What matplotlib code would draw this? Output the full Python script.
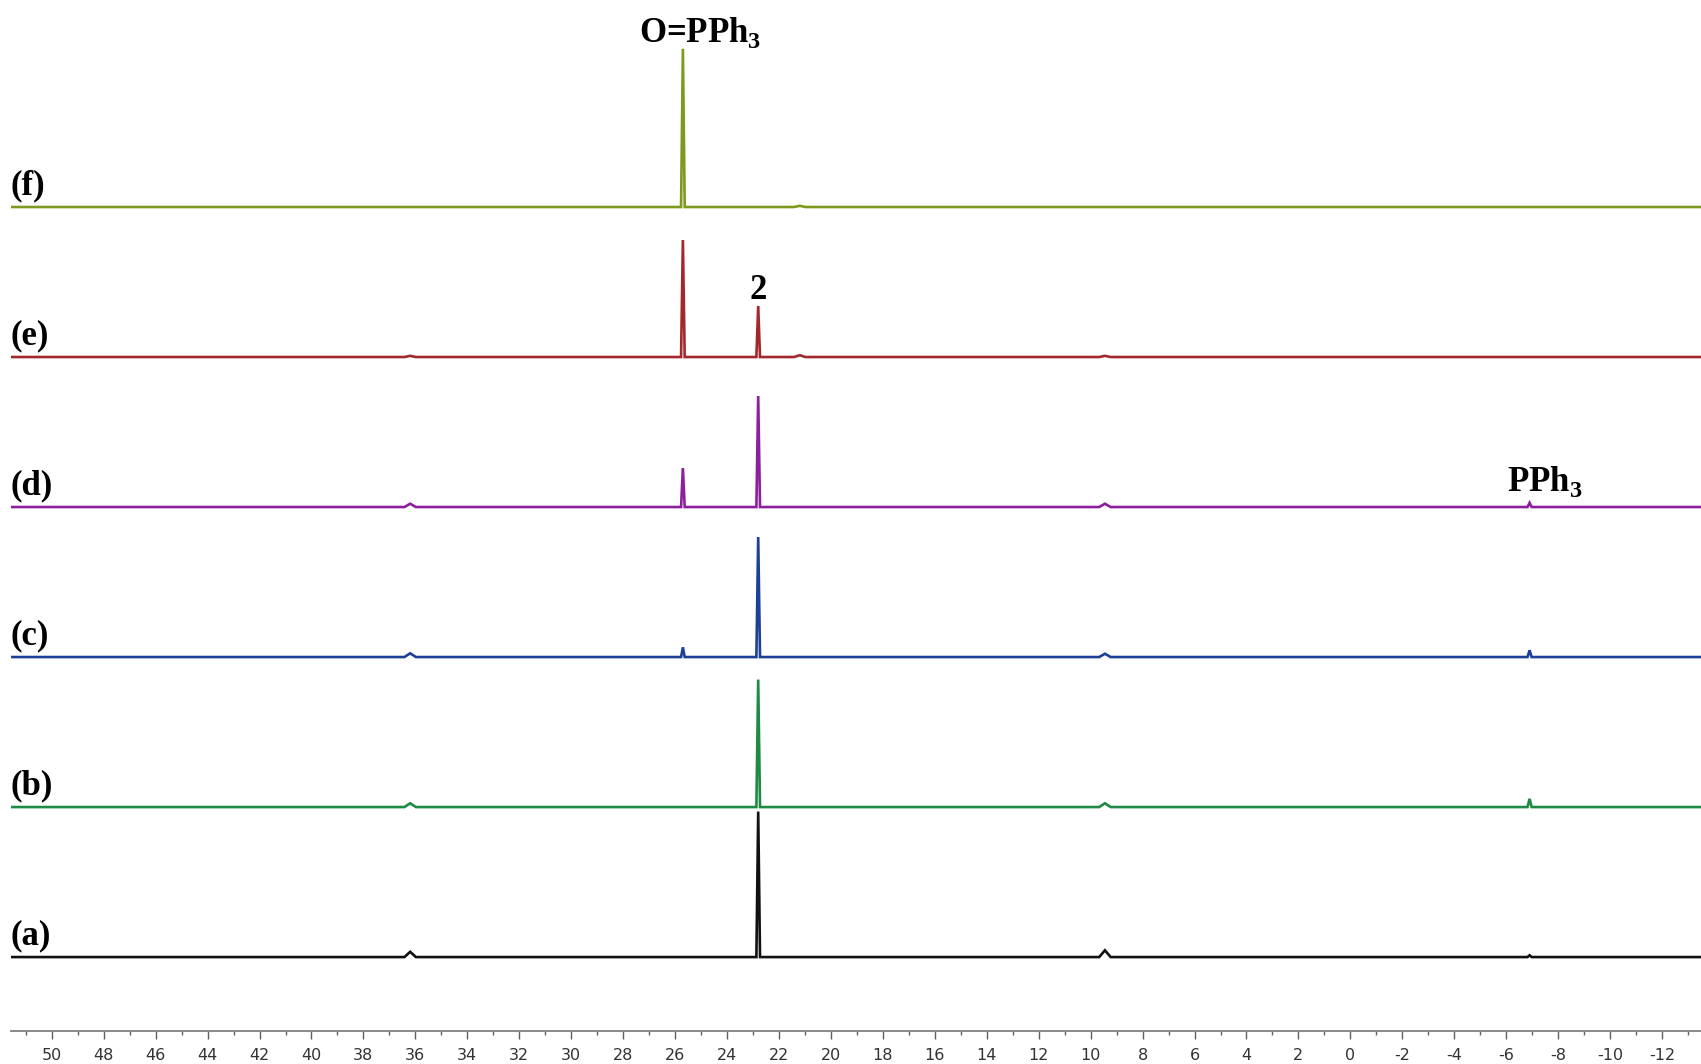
import numpy as np
import matplotlib
matplotlib.use("Agg")
import matplotlib.pyplot as plt
from matplotlib.ticker import MultipleLocator

# 31P NMR stack, (a) bottom -> (f) top
SHIFTS = [36.2, 25.7, 22.8, 21.2, 9.45, -6.9]          # ppm
WIDTHS = [0.22, 0.07, 0.07, 0.22, 0.22, 0.08]          # half-width, ppm
LABELS = ["(a)", "(b)", "(c)", "(d)", "(e)", "(f)"]
HEIGHT_A = [0.035, 0.0, 0.97, 0.0, 0.045, 0.012]
HEIGHT_B = [0.025, 0.0, 0.85, 0.0, 0.025, 0.055]
HEIGHT_C = [0.025, 0.065, 0.80, 0.0, 0.022, 0.045]
HEIGHT_D = [0.022, 0.26, 0.74, 0.0, 0.022, 0.028]
HEIGHT_E = [0.008, 0.78, 0.34, 0.012, 0.008, 0.0]
HEIGHT_F = [0.0, 1.055, 0.0, 0.008, 0.0, 0.0]
HEIGHTS = [HEIGHT_A, HEIGHT_B, HEIGHT_C, HEIGHT_D, HEIGHT_E, HEIGHT_F]
COLORS = ["#111111", "#1e8a44", "#1d3f95", "#8c1f9c", "#a3282b", "#7c9a1e"]
XMAX, XMIN = 51.58, -13.5

plt.rcParams["mathtext.fontset"] = "custom"
plt.rcParams["mathtext.rm"] = "Liberation Serif:bold"
plt.rcParams["mathtext.bf"] = "Liberation Serif:bold"
plt.rcParams["axes.unicode_minus"] = False

fig = plt.figure(figsize=(17.01, 10.64), dpi=100)
ax = fig.add_axes([0.0063, 0.031, 0.9937, 0.969])

for i, (h, col) in enumerate(zip(HEIGHTS, COLORS)):
    xs, ys = [XMAX], [0.0]
    for p, w, hh in sorted(zip(SHIFTS, WIDTHS, h), reverse=True):
        if hh <= 0:
            continue
        xs += [p + w, p, p - w]
        ys += [0.0, hh, 0.0]
    xs.append(XMIN); ys.append(0.0)
    ax.plot(xs, np.array(ys) + i, color=col, lw=1.9, solid_joinstyle="miter")
    ax.text(0.0, i + 0.14, LABELS[i], transform=ax.get_yaxis_transform(), ha="left", va="center",
            family="Liberation Serif", weight="bold", fontsize=25)

serif = dict(family="Liberation Serif", weight="bold", fontsize=25)
ax.text(25.05, 6.165, r"O=PPh$_{\mathbf{3}}$", ha="center", va="center", **serif)
ax.text(22.8, 4.335, "2", ha="center", va="bottom", **serif)
ax.text(-7.5, 3.17, r"PPh$_{\mathbf{3}}$", ha="center", va="center", **serif)

ax.set_xlim(XMAX, XMIN)
ax.set_ylim(-0.493, 6.38)
for s in ("left", "right", "top"):
    ax.spines[s].set_visible(False)
ax.spines["bottom"].set_color("#808080")
ax.spines["bottom"].set_linewidth(1.3)
ax.set_yticks([])
ax.xaxis.set_major_locator(MultipleLocator(2))
ax.xaxis.set_minor_locator(MultipleLocator(1))
ax.tick_params(axis="x", which="major", length=6, width=1.0, color="#606060",
               labelsize=11.5, labelcolor="#333333", pad=6)
ax.tick_params(axis="x", which="minor", length=3, width=1.0, color="#606060")

fig.savefig("out.png", dpi=100)
